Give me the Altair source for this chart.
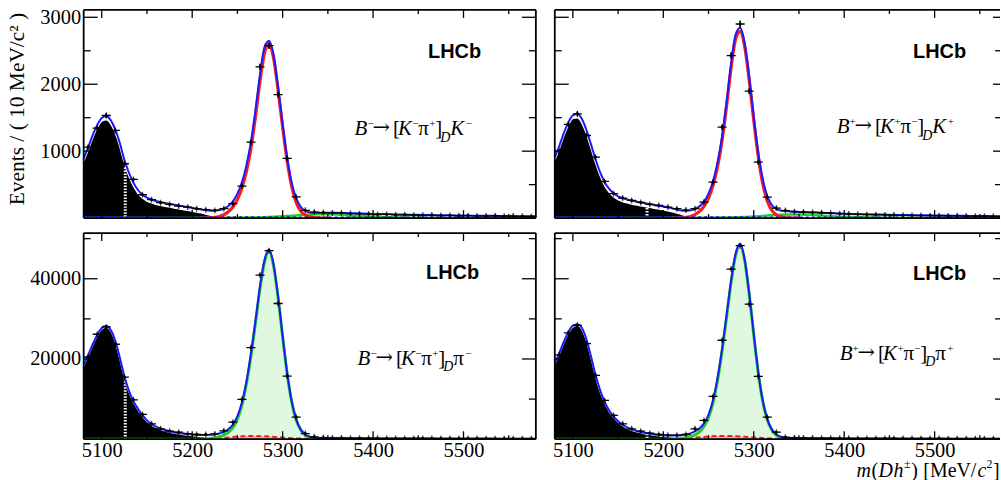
import altair as alt
import pandas as pd

SERIF = "Liberation Serif"
SANS = "Liberation Sans"
BLUE = "#1a1aff"
RED = "#ff1a1a"
GREEN = "#1ed21e"

# ---------------- data ----------------
BIN_CENTRES = list(range(5085, 5580, 10))

TL_COUNTS = [1060, 1343, 1533, 1309, 812, 578, 349, 275, 230, 204,
             179, 164, 140, 125, 115, 140, 215, 478, 1134, 2260,
             2576, 1845, 892, 316, 116, 90, 82, 75, 78, 68,
             64, 60, 52, 55, 48, 50, 44, 42, 45, 38,
             40, 35, 37, 33, 30, 35, 28, 30, 27, 25]
TR_COUNTS = [1000, 1400, 1558, 1234, 910, 548, 364, 299, 264, 234,
             205, 188, 165, 140, 120, 140, 239, 537, 1358, 2428,
             2900, 1896, 836, 313, 150, 112, 96, 90, 84, 80,
             72, 66, 60, 57, 52, 50, 47, 45, 42, 40,
             38, 37, 35, 33, 34, 30, 29, 28, 27, 26]
BL_COUNTS = [20500, 26170, 28000, 23670, 15500, 9830, 6170, 3830, 2580, 2000,
             1750, 1330, 1170, 1150, 1330, 2100, 4250, 9920, 22830, 40920,
             47000, 33830, 15750, 5500, 1400, 600, 420, 330, 300, 270,
             250, 230, 220, 210, 200, 195, 190, 180, 175, 170,
             165, 160, 155, 150, 145, 140, 138, 135, 130, 128]
BR_COUNTS = [21000, 26500, 28400, 23830, 15920, 9670, 5920, 3830, 2580, 2000,
             1500, 1170, 1000, 1000, 1170, 2580, 4670, 10670, 24670, 42420,
             48250, 33670, 15670, 5500, 1750, 500, 380, 320, 290, 265,
             245, 230, 215, 205, 198, 190, 182, 176, 170, 165,
             160, 155, 150, 146, 142, 138, 134, 131, 128, 125]

# knots of the fitted curves
GRID_TOTAL = list(range(5080, 5345, 5)) + [5350, 5360, 5370, 5380, 5400, 5420, 5440,
                                           5460, 5480, 5500, 5520, 5540, 5560, 5580]
TL_TOTAL = [890, 1060, 1240, 1390, 1495, 1520, 1460, 1320, 1120, 870,
            680, 530, 420, 350, 305, 277, 256, 240, 226, 213,
            200, 188, 176, 164, 152, 140, 128, 118, 110, 112,
            120, 140, 180, 250, 365, 535, 790, 1145, 1620, 2150,
            2560, 2650, 2440, 1960, 1410, 905, 530, 300, 170, 110,
            85, 80, 80,
            80, 78, 75, 71, 63, 56, 50, 46, 42, 38, 35, 32, 29, 27]
TR_TOTAL = [910, 1080, 1270, 1430, 1535, 1555, 1480, 1315, 1105, 880,
            690, 540, 440, 370, 325, 298, 277, 261, 247, 234,
            221, 209, 197, 185, 173, 160, 145, 128, 112, 108,
            115, 135, 175, 245, 365, 555, 835, 1225, 1745, 2315,
            2745, 2845, 2615, 2115, 1520, 985, 580, 330, 195, 135,
            112, 104, 100,
            92, 87, 82, 77, 66, 58, 52, 47, 43, 39, 36, 33, 30, 28]
BL_TOTAL = [18500, 21000, 23700, 26000, 27700, 28200, 27200, 24500, 20300, 15700,
            12100, 9500, 7600, 6000, 4700, 3800, 3150, 2650, 2300, 2000,
            1750, 1550, 1400, 1280, 1180, 1100, 1060, 1050, 1090, 1200,
            1450, 1850, 2500, 3650, 5750, 9200, 14400, 21400, 29600, 38100,
            44700, 47300, 43600, 35600, 25800, 16600, 9550, 5000, 2450, 1180,
            600, 400, 320,
            270, 250, 240, 230, 210, 197, 185, 175, 165, 157, 150, 143, 136, 130]
BR_TOTAL = [19000, 21500, 24300, 26700, 28300, 28650, 27700, 24900, 20700, 16100,
            12300, 9400, 7200, 5700, 4500, 3600, 2950, 2450, 2080, 1800,
            1560, 1370, 1210, 1090, 1000, 940, 910, 920, 990, 1150,
            1450, 1950, 2700, 3950, 6150, 9800, 15300, 22500, 31000, 39600,
            46300, 48700, 44800, 36400, 26300, 16750, 9600, 5000, 2450, 1170,
            590, 390, 310,
            265, 245, 235, 225, 205, 192, 180, 170, 160, 152, 145, 138, 132, 126]

GRID_PART = list(range(5080, 5250, 5))
TL_PART = [850, 1020, 1200, 1350, 1450, 1470, 1410, 1270, 1070, 820,
           630, 480, 370, 300, 255, 228, 208, 192, 178, 165,
           152, 140, 128, 116, 104, 92, 78, 62, 45, 28, 14, 5, 0, 0]
TR_PART = [870, 1040, 1230, 1390, 1490, 1500, 1420, 1260, 1050, 830,
           640, 490, 390, 320, 275, 248, 228, 212, 198, 185,
           172, 160, 148, 136, 124, 110, 94, 76, 56, 36, 18, 7, 0, 0]
BL_PART = [18300, 20800, 23500, 25800, 27500, 28000, 27000, 24300, 20100, 15500,
           11900, 9300, 7400, 5800, 4500, 3600, 2950, 2450, 2100, 1800,
           1550, 1350, 1180, 1030, 900, 780, 660, 540, 420, 300, 190, 100, 40, 0]
BR_PART = [18800, 21300, 24100, 26500, 28000, 28400, 27400, 24600, 20400, 15800,
           12000, 9200, 7000, 5500, 4300, 3400, 2750, 2250, 1900, 1620,
           1380, 1180, 1020, 880, 760, 650, 540, 430, 320, 220, 130, 60, 20, 0]

GRID_PEAK = list(range(5210, 5355, 5))
TL_SIGNAL = [0, 1, 4, 10, 25, 50, 95, 165, 280, 450, 700, 1050, 1520, 2050, 2470,
             2600, 2390, 1910, 1360, 855, 475, 235, 105, 45, 18, 7, 2, 0, 0]
TR_SIGNAL = [0, 1, 4, 10, 25, 52, 100, 175, 300, 490, 770, 1160, 1680, 2250, 2680,
             2790, 2560, 2060, 1460, 920, 510, 255, 115, 50, 20, 8, 3, 0, 0]
GRID_SIG_BOT = [5080, 5150, 5200] + GRID_PEAK + [5370, 5400, 5580]
BL_SIGNAL = [0, 0, 20,
             60, 110, 200, 350, 600, 1000, 1700, 2900, 5000, 8500, 13800, 20800, 29000,
             37600, 44200, 46800, 43200, 35200, 25500, 16300, 9300, 4800, 2300, 1050,
             480, 220, 100, 50, 30,
             5, 2, 0]
BR_SIGNAL = [0, 0, 20,
             60, 120, 210, 370, 640, 1080, 1850, 3150, 5400, 9100, 14700, 22000, 30500,
             39200, 45900, 48300, 44500, 36100, 26000, 16500, 9400, 4850, 2300, 1050,
             480, 220, 100, 50, 30,
             5, 2, 0]

GRID_MISID_TOP = [5080, 5150, 5200, 5240, 5260, 5280, 5300, 5310, 5320, 5330, 5340,
                  5350, 5360, 5370, 5380, 5390, 5400, 5420, 5440, 5470, 5500, 5580]
TL_MISID = [2, 2, 3, 5, 8, 14, 26, 35, 45, 54, 58, 57, 52, 44, 35, 27, 20, 12, 7, 4, 3, 2]
TR_MISID = [2, 2, 3, 5, 8, 13, 24, 33, 43, 51, 55, 54, 49, 42, 33, 25, 19, 11, 7, 4, 3, 2]
GRID_MISID_BOT = [5130, 5170, 5200, 5220, 5230, 5240, 5250, 5260, 5270, 5280, 5290,
                  5300, 5310, 5320, 5330, 5340, 5360, 5580]
BL_MISID = [0, 0, 40, 100, 250, 450, 650, 780, 800, 720, 580, 420, 270, 150, 70, 25, 0, 0]
BR_MISID = [0, 0, 45, 110, 260, 470, 680, 810, 830, 740, 600, 430, 280, 155, 75, 28, 0, 0]

GRID_COMB = [5080, 5330, 5580]
TL_COMB = [20, 14, 8]
TR_COMB = [20, 14, 8]

# white hatch boundary inside the partially reconstructed shape
TL_HATCH = ([5126], [800])
TR_HATCH = ([5182], [150])
BL_HATCH = ([5126], [15200])
BR_HATCH = ([5182], [1380])

X_MAJOR = [5100, 5200, 5300, 5400, 5500]
X_MINOR = [5150, 5250, 5350, 5450, 5550]
TOP_Y_LABELS = [1000, 2000, 3000]
TOP_Y_MINOR = [500, 1500, 2500]
BOT_Y_LABELS = [20000, 40000]
BOT_Y_MINOR = [10000, 30000, 50000]

LABEL_TL = ["B", "\u2212", "\u2192", "[", "K", "\u2212", "\u03c0", "+", "]", "D", "K", "\u2212"]
LABEL_TR = ["B", "+", "\u2192", "[", "K", "+", "\u03c0", "\u2212", "]", "D", "K", "+"]
LABEL_BL = ["B", "\u2212", "\u2192", "[", "K", "\u2212", "\u03c0", "+", "]", "D", "\u03c0", "\u2212"]
LABEL_BR = ["B", "+", "\u2192", "[", "K", "+", "\u03c0", "\u2212", "]", "D", "\u03c0", "+"]
X_TITLE = ["m", "(", "D", "h", "\u00b1", ")", "[MeV/", "c", "2", "]"]
Y_TITLE = "Events / ( 10 MeV/c\u00b2 )"


def frame(ms, vs):
    return pd.DataFrame({"m": ms, "v": vs})


def text(t, x, y, size, font=SERIF, style="normal", weight="normal", align="left"):
    return alt.Chart(pd.DataFrame({"t": [t]})).mark_text(
        font=font, fontSize=size, fontStyle=style, fontWeight=weight, align=align,
        baseline="alphabetic", color="black"
    ).encode(x=alt.value(x), y=alt.value(y), text="t:N")


def decay_label(glyphs, x0, y0, last_is_pi):
    # (dx, dy, size, italic, font) layout for each glyph
    layout = [(0, 0, 21, True, SERIF), (13, -8, 11, False, SERIF),
              (18, -1, 21, False, "DejaVu Serif"), (38.5, 0, 21, False, SERIF),
              (43.5, 0, 21, True, SERIF), (58, -8, 11, False, SERIF),
              (64, 0, 21, False, SERIF), (75, -8, 11, False, SERIF),
              (81, 0, 21, False, SERIF), (86, 7, 14, True, SERIF),
              (96, 0, 21, not last_is_pi, SERIF),
              (108 if last_is_pi else 111.5, -8, 11, False, SERIF)]
    out = []
    for g, (dx, dy, s, it, f) in zip(glyphs, layout):
        out.append(text(g, x0 + dx, y0 + dy, s, font=f, style="italic" if it else "normal"))
    return out


def panel(counts, total, part, sig_grid, signal, sig_is_green, mis_grid, misid, comb, hatch,
          w, h, xdom, ydom, y_labels, y_major, y_minor, show_x, show_y, y_title,
          lhcb_xy, label_glyphs, label_xy, last_is_pi, x_title=False):
    xs = alt.Scale(domain=xdom, nice=False, zero=False)
    ys = alt.Scale(domain=ydom, nice=False, zero=False)
    if show_x:
        xaxis = alt.Axis(values=X_MAJOR, format="d", labelFont=SERIF, labelFontSize=20.5,
                         labelColor="black", labelPadding=1, ticks=False, tickSize=0,
                         domain=False, grid=False, title=None, labelOverlap=False,
                         labelFlush=False)
    else:
        xaxis = None
    if show_y:
        if y_title:
            yaxis = alt.Axis(values=y_labels, format="d", labelFont=SERIF, labelFontSize=20.5,
                             labelColor="black", labelPadding=3, ticks=False, tickSize=0,
                             domain=False, grid=False, labelOverlap=False, labelFlush=False,
                             title=Y_TITLE, titleFont=SERIF, titleFontSize=21.5,
                             titleFontWeight="normal", titleColor="black", titlePadding=11,
                             titleY=99)
        else:
            yaxis = alt.Axis(values=y_labels, format="d", labelFont=SERIF, labelFontSize=20.5,
                             labelColor="black", labelPadding=3, ticks=False, tickSize=0,
                             domain=False, grid=False, labelOverlap=False, labelFlush=False,
                             title=None)
    else:
        yaxis = None

    def X(f="m"):
        return alt.X(f"{f}:Q", scale=xs, axis=xaxis)

    def Y(f="v"):
        return alt.Y(f"{f}:Q", scale=ys, axis=yaxis)

    layers = []
    sig_df = frame(sig_grid, signal)
    mis_df = frame(mis_grid, misid)
    part_df = frame(GRID_PART, part)
    tot_df = frame(GRID_TOTAL, total)

    if sig_is_green:
        layers.append(alt.Chart(sig_df).mark_area(color="#e0f8e0", interpolate="monotone",
                                                  clip=True).encode(x=X(), y=Y()))
        layers.append(alt.Chart(mis_df).mark_area(color="#ff9a9a", opacity=0.8,
                                                  interpolate="monotone",
                                                  clip=True).encode(x=X(), y=Y()))
    layers.append(alt.Chart(part_df).mark_area(color="black", interpolate="monotone",
                                               clip=True).encode(x=X(), y=Y()))
    hdf = pd.DataFrame({"m": hatch[0], "top": hatch[1], "bot": [0]})
    layers.append(alt.Chart(hdf).mark_rule(color="white", strokeWidth=3,
                                           strokeDash=[1.5, 1.5]).encode(
        x=X(), y=Y("top"), y2=alt.Y2("bot:Q")))
    layers.append(alt.Chart(part_df).mark_line(color="white", strokeWidth=1.5,
                                               interpolate="monotone",
                                               clip=True).encode(x=X(), y=Y()))
    if sig_is_green:
        layers.append(alt.Chart(mis_df).mark_line(color=RED, strokeWidth=2, strokeDash=[5, 3],
                                                  interpolate="monotone",
                                                  clip=True).encode(x=X(), y=Y()))
        layers.append(alt.Chart(sig_df).mark_line(color=GREEN, strokeWidth=3,
                                                  interpolate="monotone",
                                                  clip=True).encode(x=X(), y=Y()))
    else:
        layers.append(alt.Chart(mis_df).mark_line(color=GREEN, strokeWidth=2.5,
                                                  interpolate="monotone",
                                                  clip=True).encode(x=X(), y=Y()))
        layers.append(alt.Chart(sig_df).mark_line(color=RED, strokeWidth=3.2,
                                                  interpolate="monotone",
                                                  clip=True).encode(x=X(), y=Y()))
    if comb is not None:
        layers.append(alt.Chart(frame(GRID_COMB, comb)).mark_line(
            color=BLUE, strokeWidth=1.5, strokeDash=[3, 3], clip=True).encode(x=X(), y=Y()))
    layers.append(alt.Chart(tot_df).mark_line(color=BLUE, strokeWidth=2,
                                              interpolate="monotone",
                                              clip=True).encode(x=X(), y=Y()))

    pts = alt.Chart(frame(BIN_CENTRES, counts)).transform_calculate(
        lo="datum.v - sqrt(datum.v)", hi="datum.v + sqrt(datum.v)",
        m1="datum.m - 5", m2="datum.m + 5")
    layers.append(pts.mark_rule(color="black", strokeWidth=1.3, clip=True).encode(
        x=X(), y=Y("lo"), y2=alt.Y2("hi:Q")))
    layers.append(pts.mark_rule(color="black", strokeWidth=1.3, clip=True).encode(
        x=X("m1"), x2=alt.X2("m2:Q"), y=Y()))
    layers.append(pts.mark_tick(color="black", orient="vertical", size=6, thickness=1.3,
                                clip=True).encode(x=X(), y=Y()))
    layers.append(pts.mark_circle(color="black", size=9, opacity=1, clip=True).encode(
        x=X(), y=Y()))

    # inward ticks, ROOT style
    ymaj = pd.DataFrame({"v": y_major})
    ymin = pd.DataFrame({"v": y_minor})
    xmaj = pd.DataFrame({"m": X_MAJOR})
    xmin = pd.DataFrame({"m": X_MINOR})
    tick = dict(color="black", strokeWidth=1.3)
    right_len_major = 14 if show_y else 7
    right_len_minor = 7 if show_y else 5
    layers += [
        alt.Chart(ymaj).mark_rule(**tick).encode(y=Y(), x=alt.value(0), x2=alt.value(14)),
        alt.Chart(ymin).mark_rule(**tick).encode(y=Y(), x=alt.value(0), x2=alt.value(7)),
        alt.Chart(ymaj).mark_rule(**tick).encode(y=Y(), x=alt.value(w - right_len_major),
                                                 x2=alt.value(w)),
        alt.Chart(ymin).mark_rule(**tick).encode(y=Y(), x=alt.value(w - right_len_minor),
                                                 x2=alt.value(w)),
        alt.Chart(xmaj).mark_rule(**tick).encode(x=X(), y=alt.value(h), y2=alt.value(h - 8)),
        alt.Chart(xmin).mark_rule(**tick).encode(x=X(), y=alt.value(h), y2=alt.value(h - 4)),
        alt.Chart(xmaj).mark_rule(**tick).encode(x=X(), y=alt.value(0), y2=alt.value(8)),
        alt.Chart(xmin).mark_rule(**tick).encode(x=X(), y=alt.value(0), y2=alt.value(4)),
    ]
    one = pd.DataFrame({"k": [0]})
    fr = dict(color="black", strokeWidth=1.8)
    layers += [
        alt.Chart(one).mark_rule(**fr).encode(x=alt.value(0), x2=alt.value(w),
                                              y=alt.value(0), y2=alt.value(0)),
        alt.Chart(one).mark_rule(**fr).encode(x=alt.value(0), x2=alt.value(w),
                                              y=alt.value(h), y2=alt.value(h)),
        alt.Chart(one).mark_rule(**fr).encode(x=alt.value(0), x2=alt.value(0),
                                              y=alt.value(0), y2=alt.value(h)),
    ]
    if show_y:
        layers.append(alt.Chart(one).mark_rule(**fr).encode(
            x=alt.value(w), x2=alt.value(w), y=alt.value(0), y2=alt.value(h)))

    layers.append(text("LHCb", lhcb_xy[0], lhcb_xy[1], 20, font=SANS, weight="bold",
                       align="right"))
    layers += decay_label(label_glyphs, label_xy[0], label_xy[1], last_is_pi)

    if x_title:
        xt_layout = [(303, 0, 20, True), (318, 0, 20, False), (325, 0, 20, True),
                     (340, 0, 20, True), (350.5, -9, 12, False), (358, 0, 20, False),
                     (370, 0, 20, False), (424.5, 0, 20, True), (433.5, -9, 12, False),
                     (440, 0, 20, False)]
        for g, (px, dy, s, it) in zip(X_TITLE, xt_layout):
            layers.append(text(g, px, h + 37.5 + dy, s, style="italic" if it else "normal"))

    return alt.layer(*layers).properties(width=w, height=h)


W_L, W_R = 454, 447
H_T, H_B = 209, 207
XDOM_L = [5080, 5580]
XDOM_R = [5080, 5080 + W_R / 0.908]
YDOM_T = [0, 3110]
YDOM_B = [0, 51400]

tl = panel(TL_COUNTS, TL_TOTAL, TL_PART, GRID_PEAK, TL_SIGNAL, False, GRID_MISID_TOP,
           TL_MISID, TL_COMB, TL_HATCH, W_L, H_T, XDOM_L, YDOM_T, TOP_Y_LABELS,
           TOP_Y_LABELS, TOP_Y_MINOR, False, True, True, (399, 48), LABEL_TL, (272, 126), False)
tr = panel(TR_COUNTS, TR_TOTAL, TR_PART, GRID_PEAK, TR_SIGNAL, False, GRID_MISID_TOP,
           TR_MISID, TR_COMB, TR_HATCH, W_R, H_T, XDOM_R, YDOM_T, TOP_Y_LABELS,
           TOP_Y_LABELS, TOP_Y_MINOR, False, False, False, (413, 48), LABEL_TR, (283, 124), False)
bl = panel(BL_COUNTS, BL_TOTAL, BL_PART, GRID_SIG_BOT, BL_SIGNAL, True, GRID_MISID_BOT,
           BL_MISID, None, BL_HATCH, W_L, H_B, XDOM_L, YDOM_B, BOT_Y_LABELS,
           BOT_Y_LABELS, BOT_Y_MINOR, True, True, False, (397, 46), LABEL_BL, (275, 132), True)
br = panel(BR_COUNTS, BR_TOTAL, BR_PART, GRID_SIG_BOT, BR_SIGNAL, True, GRID_MISID_BOT,
           BR_MISID, None, BR_HATCH, W_R, H_B, XDOM_R, YDOM_B, BOT_Y_LABELS,
           BOT_Y_LABELS, BOT_Y_MINOR, True, False, False, (413, 47), LABEL_BR, (286, 127), True,
           x_title=True)

chart = alt.concat(tl, tr, bl, br, columns=2, spacing={"row": 12, "column": 15}).properties(
    padding={"left": 7, "top": 6, "right": 0, "bottom": 0},
    background="white",
).configure_view(stroke=None)

chart.save("out.html", embed_options={"renderer": "svg", "actions": False})
